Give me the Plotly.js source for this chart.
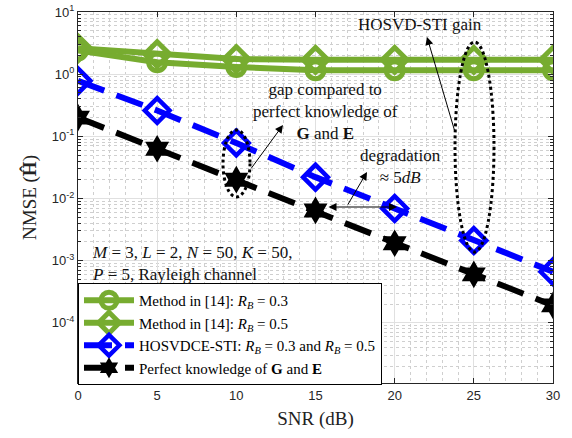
<!DOCTYPE html>
<html>
<head>
<meta charset="utf-8">
<script src="https://cdn.plot.ly/plotly-3.0.1.min.js"></script>
<style>html,body{margin:0;padding:0;background:#fff;}#chart{width:572px;height:438px;}</style>
</head>
<body>
<div id="chart"></div>
<script>
const snr = [0, 5, 10, 15, 20, 25, 30];
const method14Rb03 = [2.4, 1.55, 1.3, 1.16, 1.16, 1.16, 1.16];
const method14Rb05 = [2.6, 2.1, 1.75, 1.7, 1.7, 1.7, 1.7];
const hosvdceSti = [0.78, 0.26, 0.078, 0.022, 0.0069, 0.0021, 0.00066];
const perfectGE = [0.2, 0.063, 0.02, 0.0064, 0.0019, 0.0006, 0.00019];
const seriesNames = [
  'Method in [14]: <i>R</i><sub><i>B</i></sub> = 0.3',
  'Method in [14]: <i>R</i><sub><i>B</i></sub> = 0.5',
  'HOSVDCE-STI: <i>R</i><sub><i>B</i></sub> = 0.3 and <i>R</i><sub><i>B</i></sub> = 0.5',
  'Perfect knowledge of <b>G</b> and <b>E</b>'
];
const yTickVals = [1e-4, 1e-3, 1e-2, 1e-1, 1, 10];
const yTickText = ['10<sup>-4</sup>', '10<sup>-3</sup>', '10<sup>-2</sup>', '10<sup>-1</sup>', '10<sup>0</sup>', '10<sup>1</sup>'];
const xTickVals = [0, 5, 10, 15, 20, 25, 30];

const green = '#77AC30';
const serif = "Liberation Serif";
const sans = "Liberation Sans";

const traces = [
  {x: snr, y: method14Rb03, name: seriesNames[0], mode: 'lines+markers',
   line: {color: green, width: 6},
   marker: {symbol: 'circle-open', size: 17, color: green, line: {width: 5, color: green}}},
  {x: snr, y: method14Rb05, name: seriesNames[1], mode: 'lines+markers',
   line: {color: green, width: 6},
   marker: {symbol: 'diamond-open', size: 19, color: green, line: {width: 5, color: green}}},
  {x: snr, y: hosvdceSti, name: seriesNames[2], mode: 'lines+markers',
   line: {color: '#0000FF', width: 6, dash: '28px,13px'},
   marker: {symbol: 'diamond-open', size: 19, color: '#0000FF', line: {width: 4.5, color: '#0000FF'}}},
  {x: snr, y: perfectGE, name: seriesNames[3], mode: 'lines+markers',
   line: {color: '#000000', width: 6, dash: '28px,13px'},
   marker: {symbol: 'hexagram', size: 21, color: '#000000', line: {width: 0}}}
];

const W = 475, H = 371, L = 78, T = 12;
function px(x) { return (x - L) / W; }
function py(y) { return (T + H - y) / H; }

const dotted = {color: '#000', width: 3, dash: 'dot'};
const shapes = [
  {type: 'circle', xref: 'paper', yref: 'paper', x0: px(455), x1: px(494), y0: py(252), y1: py(42), line: dotted},
  {type: 'circle', xref: 'paper', yref: 'paper', x0: px(223), x1: px(250), y0: py(197), y1: py(130), line: dotted}
];

const txtFont = {family: serif, size: 17, color: '#111'};
function arrow(hx, hy, tx, ty, side) {
  return {xref: 'paper', yref: 'paper', x: px(hx), y: py(hy), ax: tx - hx, ay: ty - hy,
    text: '', showarrow: true, arrowhead: 2, arrowsize: 1.6, arrowwidth: 1, arrowcolor: '#000',
    arrowside: side || 'end', standoff: 0, startstandoff: 0};
}
const annotations = [
  {xref: 'paper', yref: 'paper', x: px(420), y: py(25), text: 'HOSVD-STI gain', showarrow: false,
   font: txtFont, xanchor: 'center', yanchor: 'middle'},
  {xref: 'paper', yref: 'paper', x: px(325), y: py(111), text: 'gap compared to<br>perfect knowledge of<br><b>G</b> and <b>E</b>', showarrow: false,
   font: txtFont, xanchor: 'center', yanchor: 'middle'},
  {xref: 'paper', yref: 'paper', x: px(400), y: py(167), text: 'degradation<br>≈ 5<i>dB</i>', showarrow: false,
   font: txtFont, xanchor: 'center', yanchor: 'middle'},
  {xref: 'paper', yref: 'paper', x: px(90), y: py(263), text: '<i>M</i> = 3, <i>L</i> = 2, <i>N</i> = 50, <i>K</i> = 50,<br><i>P</i> = 5, Rayleigh channel', showarrow: false,
   font: txtFont, xanchor: 'left', yanchor: 'middle', align: 'left'},
  arrow(427, 37, 455, 132),
  arrow(283, 125, 250, 170),
  arrow(367, 172, 347, 206),
  arrow(397, 207, 327, 207, 'end+start')
];

const layout = {
  width: 572, height: 438,
  margin: {l: 78, r: 19, t: 12, b: 55},
  font: {family: serif, size: 15, color: '#000'},
  paper_bgcolor: '#fff', plot_bgcolor: '#fff',
  showlegend: true,
  legend: {x: 0, y: py(385), xanchor: 'left', yanchor: 'bottom', bgcolor: '#fff',
    bordercolor: '#000', borderwidth: 1, font: {family: serif, size: 15, color: '#000'},
    itemwidth: 50, tracegroupgap: 0},
  xaxis: {range: [0, 30], tickvals: xTickVals, ticks: 'inside', ticklen: 5,
    tickcolor: '#262626', showline: true, linecolor: '#262626', linewidth: 1, mirror: 'ticks',
    showgrid: true, gridcolor: '#e0e0e0', gridwidth: 1, zeroline: false,
    minor: {dtick: 1, showgrid: true, gridcolor: '#cfcfcf', griddash: 'dot', gridwidth: 1, ticks: ''},
    tickfont: {family: sans, size: 13, color: '#262626'},
    title: {text: 'SNR (dB)', font: {family: serif, size: 19, color: '#222'}, standoff: 10}},
  yaxis: {type: 'log', range: [-4.97, 1], tickmode: 'array', tickvals: yTickVals, ticktext: yTickText,
    ticks: 'inside', ticklen: 5,
    tickcolor: '#262626', showline: true, linecolor: '#262626', linewidth: 1, mirror: 'ticks',
    showgrid: true, gridcolor: '#e0e0e0', gridwidth: 1, zeroline: false,
    minor: {dtick: 'D1', showgrid: true, gridcolor: '#cfcfcf', griddash: 'dot', gridwidth: 1, ticks: 'inside', ticklen: 3, tickcolor: '#262626'},
    tickfont: {family: sans, size: 13, color: '#262626'},
    title: {text: 'NMSE (<b>Ĥ</b>)', font: {family: serif, size: 19, color: '#222'}, standoff: 10}},
  shapes: shapes,
  annotations: annotations
};

Plotly.newPlot('chart', traces, layout, {displayModeBar: false, staticPlot: true});
</script>
</body>
</html>
